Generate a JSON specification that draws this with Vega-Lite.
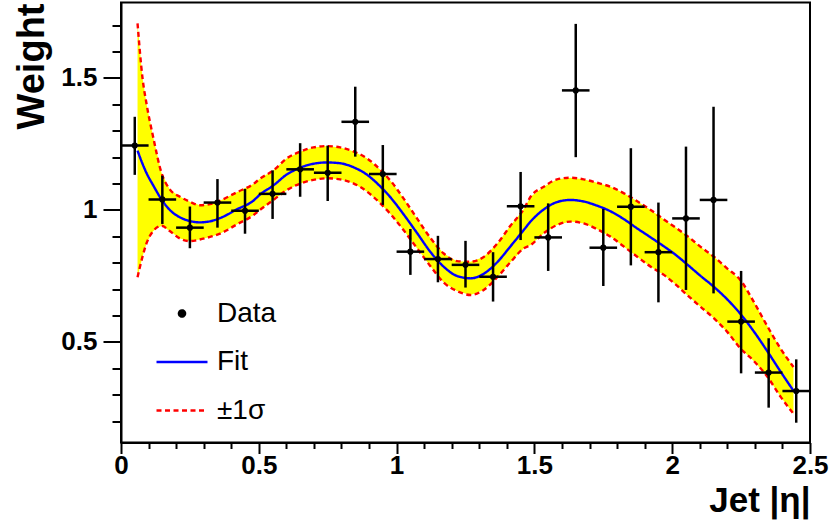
{
  "$schema": "https://vega.github.io/schema/vega-lite/v6.json",
  "width": 689,
  "height": 440,
  "autosize": {"type": "none"},
  "padding": {"left": 121, "top": 2.5, "right": 20, "bottom": 82.5},
  "background": "white",
  "config": {
    "view": {"stroke": "black", "strokeWidth": 2},
    "axis": {
      "grid": false,
      "domainColor": "black",
      "domainWidth": 2,
      "tickColor": "black",
      "tickWidth": 2,
      "labelFont": "Liberation Sans",
      "labelFontWeight": "bold",
      "labelFontSize": 26,
      "labelColor": "black",
      "labelOverlap": false,
      "labelFlush": false,
      "labelBound": false,
      "titleColor": "black"
    }
  },
  "datasets": {
    "band": [
      {"eta": 0.06, "fit": 1.225, "lo": 0.745, "hi": 1.707},
      {"eta": 0.078, "fit": 1.175, "lo": 0.823, "hi": 1.5},
      {"eta": 0.093, "fit": 1.139, "lo": 0.875, "hi": 1.4},
      {"eta": 0.117, "fit": 1.093, "lo": 0.92, "hi": 1.275},
      {"eta": 0.147, "fit": 1.04, "lo": 0.94, "hi": 1.14},
      {"eta": 0.177, "fit": 1.0, "lo": 0.92, "hi": 1.078},
      {"eta": 0.214, "fit": 0.972, "lo": 0.892, "hi": 1.05},
      {"eta": 0.25, "fit": 0.958, "lo": 0.882, "hi": 1.031},
      {"eta": 0.286, "fit": 0.953, "lo": 0.888, "hi": 1.018},
      {"eta": 0.323, "fit": 0.957, "lo": 0.898, "hi": 1.022},
      {"eta": 0.359, "fit": 0.969, "lo": 0.91, "hi": 1.035},
      {"eta": 0.42, "fit": 1.002, "lo": 0.945, "hi": 1.067},
      {"eta": 0.48, "fit": 1.035, "lo": 0.98, "hi": 1.098},
      {"eta": 0.504, "fit": 1.058, "lo": 1.0, "hi": 1.118},
      {"eta": 0.553, "fit": 1.093, "lo": 1.038, "hi": 1.15},
      {"eta": 0.601, "fit": 1.134, "lo": 1.075, "hi": 1.195},
      {"eta": 0.65, "fit": 1.16, "lo": 1.1, "hi": 1.221},
      {"eta": 0.698, "fit": 1.175, "lo": 1.114, "hi": 1.237},
      {"eta": 0.747, "fit": 1.18, "lo": 1.12, "hi": 1.242},
      {"eta": 0.795, "fit": 1.177, "lo": 1.116, "hi": 1.237},
      {"eta": 0.843, "fit": 1.162, "lo": 1.101, "hi": 1.222},
      {"eta": 0.892, "fit": 1.134, "lo": 1.07, "hi": 1.196},
      {"eta": 0.94, "fit": 1.09, "lo": 1.026, "hi": 1.153},
      {"eta": 0.98, "fit": 1.045, "lo": 0.982, "hi": 1.108},
      {"eta": 1.025, "fit": 0.984, "lo": 0.924, "hi": 1.044},
      {"eta": 1.074, "fit": 0.913, "lo": 0.855, "hi": 0.968},
      {"eta": 1.122, "fit": 0.842, "lo": 0.788, "hi": 0.895},
      {"eta": 1.171, "fit": 0.785, "lo": 0.725, "hi": 0.835},
      {"eta": 1.219, "fit": 0.75, "lo": 0.693, "hi": 0.806},
      {"eta": 1.268, "fit": 0.741, "lo": 0.678, "hi": 0.804},
      {"eta": 1.316, "fit": 0.758, "lo": 0.697, "hi": 0.822},
      {"eta": 1.365, "fit": 0.802, "lo": 0.745, "hi": 0.872},
      {"eta": 1.413, "fit": 0.862, "lo": 0.802, "hi": 0.94},
      {"eta": 1.462, "fit": 0.925, "lo": 0.855, "hi": 1.004},
      {"eta": 1.486, "fit": 0.956, "lo": 0.867, "hi": 1.05},
      {"eta": 1.534, "fit": 1.002, "lo": 0.912, "hi": 1.088},
      {"eta": 1.582, "fit": 1.03, "lo": 0.943, "hi": 1.116},
      {"eta": 1.631, "fit": 1.038, "lo": 0.956, "hi": 1.122},
      {"eta": 1.679, "fit": 1.032, "lo": 0.949, "hi": 1.116},
      {"eta": 1.728, "fit": 1.016, "lo": 0.927, "hi": 1.103},
      {"eta": 1.776, "fit": 0.995, "lo": 0.899, "hi": 1.088},
      {"eta": 1.825, "fit": 0.965, "lo": 0.861, "hi": 1.063},
      {"eta": 1.873, "fit": 0.93, "lo": 0.823, "hi": 1.033},
      {"eta": 1.922, "fit": 0.896, "lo": 0.785, "hi": 1.0},
      {"eta": 1.97, "fit": 0.862, "lo": 0.754, "hi": 0.964},
      {"eta": 2.01, "fit": 0.832, "lo": 0.72, "hi": 0.935},
      {"eta": 2.054, "fit": 0.794, "lo": 0.678, "hi": 0.902},
      {"eta": 2.102, "fit": 0.751, "lo": 0.634, "hi": 0.861},
      {"eta": 2.151, "fit": 0.709, "lo": 0.59, "hi": 0.823},
      {"eta": 2.199, "fit": 0.662, "lo": 0.539, "hi": 0.779},
      {"eta": 2.247, "fit": 0.607, "lo": 0.476, "hi": 0.735},
      {"eta": 2.296, "fit": 0.54, "lo": 0.428, "hi": 0.652},
      {"eta": 2.345, "fit": 0.465, "lo": 0.369, "hi": 0.56},
      {"eta": 2.393, "fit": 0.388, "lo": 0.293, "hi": 0.475},
      {"eta": 2.44, "fit": 0.315, "lo": 0.228, "hi": 0.405}
    ],
    "points": [
      {"eta": 0.05, "w": 1.244, "w_lo": 1.133, "w_hi": 1.353},
      {"eta": 0.15, "w": 1.04, "w_lo": 0.947, "w_hi": 1.13},
      {"eta": 0.25, "w": 0.933, "w_lo": 0.855, "w_hi": 1.013},
      {"eta": 0.35, "w": 1.028, "w_lo": 0.933, "w_hi": 1.117},
      {"eta": 0.45, "w": 0.997, "w_lo": 0.91, "w_hi": 1.08},
      {"eta": 0.55, "w": 1.061, "w_lo": 0.966, "w_hi": 1.15},
      {"eta": 0.65, "w": 1.154, "w_lo": 1.05, "w_hi": 1.253},
      {"eta": 0.75, "w": 1.141, "w_lo": 1.034, "w_hi": 1.244},
      {"eta": 0.85, "w": 1.334, "w_lo": 1.202, "w_hi": 1.467},
      {"eta": 0.95, "w": 1.136, "w_lo": 1.019, "w_hi": 1.246},
      {"eta": 1.05, "w": 0.842, "w_lo": 0.754, "w_hi": 0.928},
      {"eta": 1.15, "w": 0.814, "w_lo": 0.726, "w_hi": 0.902},
      {"eta": 1.25, "w": 0.792, "w_lo": 0.706, "w_hi": 0.883},
      {"eta": 1.35, "w": 0.747, "w_lo": 0.653, "w_hi": 0.84},
      {"eta": 1.45, "w": 1.014, "w_lo": 0.886, "w_hi": 1.144},
      {"eta": 1.55, "w": 0.896, "w_lo": 0.769, "w_hi": 1.025},
      {"eta": 1.65, "w": 1.453, "w_lo": 1.2, "w_hi": 1.705},
      {"eta": 1.75, "w": 0.857, "w_lo": 0.712, "w_hi": 1.004},
      {"eta": 1.85, "w": 1.0125, "w_lo": 0.79, "w_hi": 1.234},
      {"eta": 1.95, "w": 0.84, "w_lo": 0.65, "w_hi": 1.028},
      {"eta": 2.05, "w": 0.968, "w_lo": 0.697, "w_hi": 1.24},
      {"eta": 2.15, "w": 1.038, "w_lo": 0.684, "w_hi": 1.391},
      {"eta": 2.25, "w": 0.577, "w_lo": 0.381, "w_hi": 0.769},
      {"eta": 2.35, "w": 0.384, "w_lo": 0.251, "w_hi": 0.514},
      {"eta": 2.45, "w": 0.314, "w_lo": 0.194, "w_hi": 0.434}
    ]
  },
  "encoding": {
    "x": {
      "field": "eta", "type": "quantitative",
      "scale": {"domain": [0, 2.5], "nice": false, "zero": false},
      "axis": {"title": "Jet |η|", "titleFont": "Liberation Sans", "titleFontWeight": "bold", "titleFontSize": 35, "titleX": 689, "titleY": 69, "titleAlign": "right", "titleBaseline": "alphabetic", "values": [0, 0.1, 0.2, 0.3, 0.4, 0.5, 0.6, 0.7, 0.8, 0.9, 1.0, 1.1, 1.2, 1.3, 1.4, 1.5, 1.6, 1.7, 1.8, 1.9, 2.0, 2.1, 2.2, 2.3, 2.4, 2.5], "tickCount": 30, "format": ".1~f", "labelExpr": "abs(datum.value*2 - round(datum.value*2)) < 0.001 ? datum.label : ''", "tickSize": {"condition": {"test": "abs(datum.value*2 - round(datum.value*2)) < 0.001", "value": 11}, "value": 6}, "labelPadding": -1}
    }
  },
  "layer": [
    {
      "data": {"name": "band"},
      "mark": {"type": "area", "color": "#ffff00", "opacity": 1},
      "encoding": {
        "y": {
          "field": "lo", "type": "quantitative",
          "scale": {"domain": [0.119, 1.786], "nice": false, "zero": false},
          "axis": {"title": "Weight", "titleFont": "Liberation Sans", "titleFontWeight": "bold", "titleFontSize": 38, "titleAngle": -90, "titleX": -78, "titleY": 0.5, "titleAlign": "right", "titleBaseline": "alphabetic", "values": [0.2, 0.3, 0.4, 0.5, 0.6, 0.7, 0.8, 0.9, 1.0, 1.1, 1.2, 1.3, 1.4, 1.5, 1.6, 1.7], "tickCount": 20, "format": ".1~f", "labelExpr": "abs(datum.value*2 - round(datum.value*2)) < 0.001 ? datum.label : ''", "tickSize": {"condition": {"test": "abs(datum.value*2 - round(datum.value*2)) < 0.001", "value": 18}, "value": 9}, "labelPadding": 6}
        },
        "y2": {"field": "hi"}
      }
    },
    {
      "data": {"name": "band"},
      "mark": {"type": "line", "strokeWidth": 2.4, "interpolate": "monotone"},
      "encoding": {
        "y": {"field": "hi", "type": "quantitative",
          "axis": {"title": "Weight", "titleFont": "Liberation Sans", "titleFontWeight": "bold", "titleFontSize": 38, "titleAngle": -90, "titleX": -78, "titleY": 0.5, "titleAlign": "right", "titleBaseline": "alphabetic", "values": [0.2, 0.3, 0.4, 0.5, 0.6, 0.7, 0.8, 0.9, 1.0, 1.1, 1.2, 1.3, 1.4, 1.5, 1.6, 1.7], "tickCount": 20, "format": ".1~f", "labelExpr": "abs(datum.value*2 - round(datum.value*2)) < 0.001 ? datum.label : ''", "tickSize": {"condition": {"test": "abs(datum.value*2 - round(datum.value*2)) < 0.001", "value": 18}, "value": 9}, "labelPadding": 6}},
        "color": {
          "datum": "±1σ",
          "scale": {"domain": ["Data", "Fit", "±1σ"], "range": ["#000000", "#0000ff", "#ff0000"]},
          "legend": {
            "title": null,
            "orient": "none",
            "legendX": 34,
            "legendY": 297,
            "padding": 0,
            "symbolSize": 2600,
            "symbolStrokeWidth": 2.4,
            "labelFont": "Liberation Sans",
            "labelFontSize": 28,
            "labelColor": "black",
            "labelOffset": 8,
            "rowPadding": 7.5
          }
        },
        "strokeDash": {
          "datum": "±1σ",
          "scale": {"domain": ["Data", "Fit", "±1σ"], "range": [[1, 0], [1, 0], [5, 3.5]]},
          "legend": {"title": null}
        }
      }
    },
    {
      "data": {"name": "band"},
      "mark": {"type": "line", "strokeWidth": 2.4, "interpolate": "monotone"},
      "encoding": {
        "y": {"field": "lo", "type": "quantitative",
          "axis": {"title": "Weight", "titleFont": "Liberation Sans", "titleFontWeight": "bold", "titleFontSize": 38, "titleAngle": -90, "titleX": -78, "titleY": 0.5, "titleAlign": "right", "titleBaseline": "alphabetic", "values": [0.2, 0.3, 0.4, 0.5, 0.6, 0.7, 0.8, 0.9, 1.0, 1.1, 1.2, 1.3, 1.4, 1.5, 1.6, 1.7], "tickCount": 20, "format": ".1~f", "labelExpr": "abs(datum.value*2 - round(datum.value*2)) < 0.001 ? datum.label : ''", "tickSize": {"condition": {"test": "abs(datum.value*2 - round(datum.value*2)) < 0.001", "value": 18}, "value": 9}, "labelPadding": 6}},
        "color": {"datum": "±1σ"},
        "strokeDash": {"datum": "±1σ"}
      }
    },
    {
      "data": {"name": "band"},
      "mark": {"type": "line", "strokeWidth": 2.4, "interpolate": "monotone"},
      "encoding": {
        "y": {"field": "fit", "type": "quantitative",
          "axis": {"title": "Weight", "titleFont": "Liberation Sans", "titleFontWeight": "bold", "titleFontSize": 38, "titleAngle": -90, "titleX": -78, "titleY": 0.5, "titleAlign": "right", "titleBaseline": "alphabetic", "values": [0.2, 0.3, 0.4, 0.5, 0.6, 0.7, 0.8, 0.9, 1.0, 1.1, 1.2, 1.3, 1.4, 1.5, 1.6, 1.7], "tickCount": 20, "format": ".1~f", "labelExpr": "abs(datum.value*2 - round(datum.value*2)) < 0.001 ? datum.label : ''", "tickSize": {"condition": {"test": "abs(datum.value*2 - round(datum.value*2)) < 0.001", "value": 18}, "value": 9}, "labelPadding": 6}},
        "color": {"datum": "Fit"},
        "strokeDash": {"datum": "Fit"}
      }
    },
    {
      "data": {"name": "points"},
      "mark": {"type": "rule", "color": "black", "strokeWidth": 2.5},
      "encoding": {
        "y": {"field": "w_lo", "type": "quantitative",
          "axis": {"title": "Weight", "titleFont": "Liberation Sans", "titleFontWeight": "bold", "titleFontSize": 38, "titleAngle": -90, "titleX": -78, "titleY": 0.5, "titleAlign": "right", "titleBaseline": "alphabetic", "values": [0.2, 0.3, 0.4, 0.5, 0.6, 0.7, 0.8, 0.9, 1.0, 1.1, 1.2, 1.3, 1.4, 1.5, 1.6, 1.7], "tickCount": 20, "format": ".1~f", "labelExpr": "abs(datum.value*2 - round(datum.value*2)) < 0.001 ? datum.label : ''", "tickSize": {"condition": {"test": "abs(datum.value*2 - round(datum.value*2)) < 0.001", "value": 18}, "value": 9}, "labelPadding": 6}},
        "y2": {"field": "w_hi"}
      }
    },
    {
      "data": {"name": "points"},
      "mark": {"type": "tick", "orient": "horizontal", "color": "black", "size": 27.6, "thickness": 2.5, "opacity": 1},
      "encoding": {
        "y": {"field": "w", "type": "quantitative",
          "axis": {"title": "Weight", "titleFont": "Liberation Sans", "titleFontWeight": "bold", "titleFontSize": 38, "titleAngle": -90, "titleX": -78, "titleY": 0.5, "titleAlign": "right", "titleBaseline": "alphabetic", "values": [0.2, 0.3, 0.4, 0.5, 0.6, 0.7, 0.8, 0.9, 1.0, 1.1, 1.2, 1.3, 1.4, 1.5, 1.6, 1.7], "tickCount": 20, "format": ".1~f", "labelExpr": "abs(datum.value*2 - round(datum.value*2)) < 0.001 ? datum.label : ''", "tickSize": {"condition": {"test": "abs(datum.value*2 - round(datum.value*2)) < 0.001", "value": 18}, "value": 9}, "labelPadding": 6}}
      }
    },
    {
      "data": {"name": "points"},
      "mark": {"type": "point", "filled": true, "opacity": 1},
      "encoding": {
        "y": {"field": "w", "type": "quantitative",
          "axis": {"title": "Weight", "titleFont": "Liberation Sans", "titleFontWeight": "bold", "titleFontSize": 38, "titleAngle": -90, "titleX": -78, "titleY": 0.5, "titleAlign": "right", "titleBaseline": "alphabetic", "values": [0.2, 0.3, 0.4, 0.5, 0.6, 0.7, 0.8, 0.9, 1.0, 1.1, 1.2, 1.3, 1.4, 1.5, 1.6, 1.7], "tickCount": 20, "format": ".1~f", "labelExpr": "abs(datum.value*2 - round(datum.value*2)) < 0.001 ? datum.label : ''", "tickSize": {"condition": {"test": "abs(datum.value*2 - round(datum.value*2)) < 0.001", "value": 18}, "value": 9}, "labelPadding": 6}},
        "color": {"datum": "Data"},
        "shape": {
          "datum": "Data",
          "scale": {"domain": ["Data", "Fit", "±1σ"], "range": ["circle", "stroke", "stroke"]},
          "legend": {"title": null}
        },
        "size": {
          "datum": "Data",
          "type": "ordinal",
          "scale": {"type": "ordinal", "domain": ["Data", "Fit", "±1σ"], "range": [38, 2600, 2600]},
          "legend": {"title": null}
        }
      }
    }
  ]
}
